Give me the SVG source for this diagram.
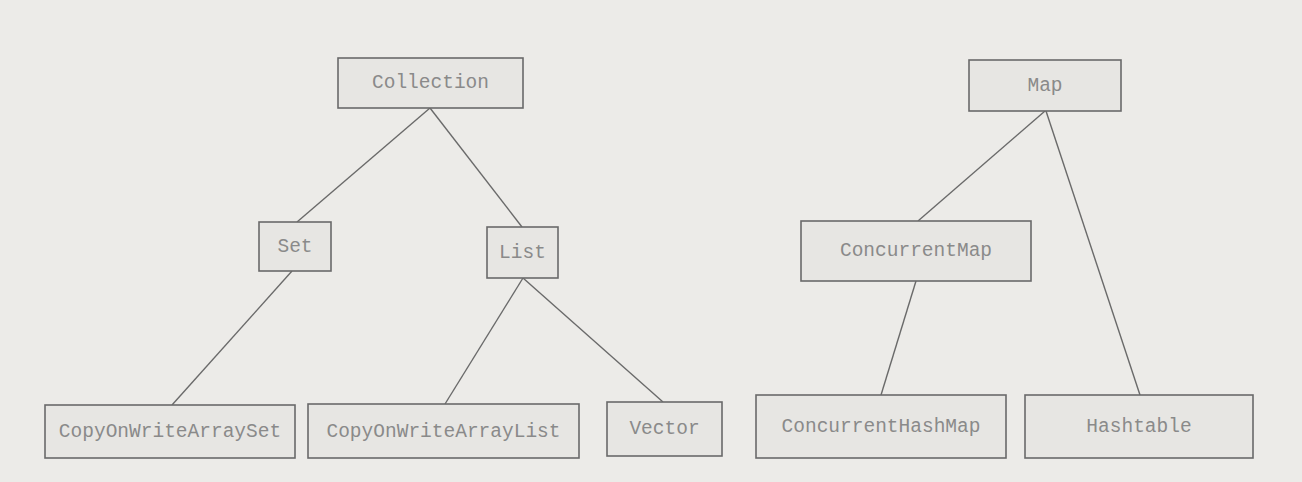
<svg xmlns="http://www.w3.org/2000/svg" width="1302" height="482" viewBox="0 0 1302 482">
<style>
.bg{fill:#ecebe8}
.box{fill:#e7e6e3;stroke:#6a6a6a;stroke-width:1.6}
.lbl{font-family:"Liberation Mono","Courier New",monospace;font-size:19.5px;fill:#8a8a8a;text-anchor:middle;dominant-baseline:central}
.edge{stroke:#6a6a6a;stroke-width:1.4;fill:none}
</style>
<rect class="bg" x="0" y="0" width="1302" height="482"/>
<g id="connectors">
<line class="edge" x1="430" y1="108" x2="297" y2="222"/>
<line class="edge" x1="430" y1="108" x2="522" y2="227"/>
<line class="edge" x1="292" y1="271" x2="172" y2="405"/>
<line class="edge" x1="523" y1="278" x2="445" y2="404"/>
<line class="edge" x1="523" y1="278" x2="663" y2="402"/>
<line class="edge" x1="1045" y1="111" x2="918" y2="221"/>
<line class="edge" x1="1046" y1="111" x2="1140" y2="395"/>
<line class="edge" x1="916" y1="281" x2="881" y2="395"/>
</g>
<g id="node-collection"><rect class="box" x="338" y="58" width="185" height="50"/><text class="lbl" x="430.5" y="83">Collection</text></g>
<g id="node-set"><rect class="box" x="259" y="222" width="72" height="49"/><text class="lbl" x="295" y="246.5">Set</text></g>
<g id="node-list"><rect class="box" x="487" y="227" width="71" height="51"/><text class="lbl" x="522.5" y="253">List</text></g>
<g id="node-cowas"><rect class="box" x="45" y="405" width="250" height="53"/><text class="lbl" x="170" y="432">CopyOnWriteArraySet</text></g>
<g id="node-cowal"><rect class="box" x="308" y="404" width="271" height="54"/><text class="lbl" x="443.5" y="431.5">CopyOnWriteArrayList</text></g>
<g id="node-vector"><rect class="box" x="607" y="402" width="115" height="54"/><text class="lbl" x="664.5" y="429">Vector</text></g>
<g id="node-map"><rect class="box" x="969" y="60" width="152" height="51"/><text class="lbl" x="1045" y="85.5">Map</text></g>
<g id="node-concurrentmap"><rect class="box" x="801" y="221" width="230" height="60"/><text class="lbl" x="916" y="251">ConcurrentMap</text></g>
<g id="node-chm"><rect class="box" x="756" y="395" width="250" height="63"/><text class="lbl" x="881" y="426.5">ConcurrentHashMap</text></g>
<g id="node-hashtable"><rect class="box" x="1025" y="395" width="228" height="63"/><text class="lbl" x="1139" y="426.5">Hashtable</text></g>
</svg>
